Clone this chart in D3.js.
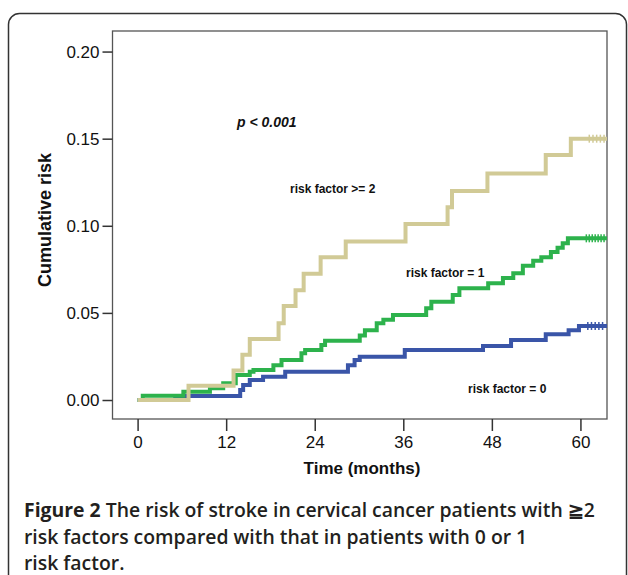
<!DOCTYPE html>
<html>
<head>
<meta charset="utf-8">
<script src="https://cdn.jsdelivr.net/npm/d3@7"></script>
<style>
  body { margin: 0; background: #fff; }
  svg { display: block; }
</style>
</head>
<body>
<svg id="chart" width="628" height="575"></svg>
<script>
// cumulative risk curves (time in months)
const timesRisk2 = [0, 6.9, 13.0, 14.2, 15.2, 19.1, 19.8, 21.4, 22.5, 24.8, 28.2, 36.3, 42.0, 42.6, 47.4, 55.3, 58.7];
const riskRisk2 = [0, 0.0082, 0.017, 0.026, 0.035, 0.044, 0.054, 0.063, 0.0725, 0.082, 0.091, 0.101, 0.1106, 0.120, 0.130, 0.1406, 0.150];

const timesRisk1 = [0, 0.7, 6.2, 9.8, 11.6, 13.3, 15.2, 15.7, 18.4, 19.5, 22.2, 22.7, 24.9, 25.4, 30.1, 30.8, 32.4, 33.3, 34.6, 39.1, 39.8, 42.7, 43.6, 47.5, 49.5, 50.9, 52.2, 53.6, 54.7, 56.0, 56.9, 57.6, 58.3];
const riskRisk1 = [0, 0.0025, 0.0048, 0.0067, 0.0096, 0.0144, 0.0162, 0.0172, 0.020, 0.023, 0.0268, 0.0287, 0.0316, 0.034, 0.037, 0.040, 0.044, 0.046, 0.0488, 0.0526, 0.0564, 0.0603, 0.0641, 0.067, 0.070, 0.0727, 0.077, 0.080, 0.082, 0.085, 0.0874, 0.090, 0.0928];

const timesRisk0 = [0, 5.1, 13.9, 14.3, 15.2, 17.0, 20.0, 28.5, 29.4, 30.1, 36.2, 46.8, 50.6, 55.3, 58.4, 59.8];
const riskRisk0 = [0, 0.0023, 0.0057, 0.0086, 0.0115, 0.0134, 0.0162, 0.020, 0.023, 0.0249, 0.0287, 0.031, 0.0344, 0.0378, 0.040, 0.0425];

// censored observations at the end of follow-up
const censorRisk2 = [61.2, 61.7, 62.2, 62.7, 63.2];
const censorRisk1 = [60.8, 61.2, 61.6, 62.0, 62.4, 62.8, 63.2];
const censorRisk0 = [61.0, 61.5, 62.0, 62.5, 63.0];

const endTime = 63.6;
const xTicks = [0, 12, 24, 36, 48, 60];
const yTicks = [0, 0.05, 0.10, 0.15, 0.20];

const seriesNames = ['risk factor = 0', 'risk factor = 1', 'risk factor >= 2'];
const seriesColors = ['#3a55a8', '#2db24c', '#d1ca96'];

const captionLines = [
  ['Figure 2', ' The risk of stroke in cervical cancer patients with \u22672'],
  ['', 'risk factors compared with that in patients with 0 or 1'],
  ['', 'risk factor.']
];

const svg = d3.select('#chart');

// outer rounded frame
svg.append('rect')
  .attr('x', 8.5).attr('y', 13.5)
  .attr('width', 618).attr('height', 620)
  .attr('rx', 11)
  .attr('fill', 'none')
  .attr('stroke', '#333')
  .attr('stroke-width', 1.5);

const plot = { left: 112.5, top: 31, right: 607, bottom: 419 };

const x = d3.scaleLinear().domain([-3.4, 63.6]).range([plot.left, plot.right]);
const y = d3.scaleLinear().domain([-0.0109, 0.2118]).range([plot.bottom, plot.top]);

svg.append('rect')
  .attr('x', plot.left).attr('y', plot.top)
  .attr('width', plot.right - plot.left).attr('height', plot.bottom - plot.top)
  .attr('fill', 'none')
  .attr('stroke', '#555')
  .attr('stroke-width', 1.3);

const tickFont = '"Liberation Sans", Arial, sans-serif';

const xAxis = svg.append('g')
  .attr('transform', `translate(0,${plot.bottom})`)
  .call(d3.axisBottom(x).tickValues(xTicks).tickSize(12).tickPadding(5).tickFormat(d3.format('d')));
xAxis.select('.domain').remove();
xAxis.selectAll('line').attr('stroke', '#333').attr('stroke-width', 1.5);
xAxis.selectAll('text').attr('font-family', tickFont).attr('font-size', 17).attr('fill', '#111');

const yAxis = svg.append('g')
  .attr('transform', `translate(${plot.left},0)`)
  .call(d3.axisLeft(y).tickValues(yTicks).tickSize(10).tickPadding(3).tickFormat(d3.format('.2f')));
yAxis.select('.domain').remove();
yAxis.selectAll('line').attr('stroke', '#333').attr('stroke-width', 1.5);
yAxis.selectAll('text').attr('font-family', tickFont).attr('font-size', 17).attr('fill', '#111');

svg.append('text')
  .attr('x', 362).attr('y', 474)
  .attr('text-anchor', 'middle')
  .attr('font-family', tickFont).attr('font-weight', 'bold').attr('font-size', 17)
  .attr('fill', '#111')
  .text('Time (months)');

svg.append('text')
  .attr('transform', 'translate(51,220) rotate(-90)')
  .attr('text-anchor', 'middle')
  .attr('font-family', tickFont).attr('font-weight', 'bold').attr('font-size', 18)
  .attr('fill', '#111')
  .text('Cumulative risk');

// step curves
const line = d3.line()
  .x(d => x(d[0]))
  .y(d => y(d[1]))
  .curve(d3.curveStepAfter);

const curves = [
  { times: timesRisk0, risk: riskRisk0, censor: censorRisk0 },
  { times: timesRisk1, risk: riskRisk1, censor: censorRisk1 },
  { times: timesRisk2, risk: riskRisk2, censor: censorRisk2 }
];

curves.forEach((c, i) => {
  const pts = c.times.map((t, k) => [t, c.risk[k]]);
  pts.push([endTime, c.risk[c.risk.length - 1]]);
  svg.append('path')
    .datum(pts)
    .attr('fill', 'none')
    .attr('stroke', seriesColors[i])
    .attr('stroke-width', 4)
    .attr('d', line);

  const last = c.risk[c.risk.length - 1];
  svg.selectAll(null)
    .data(c.censor)
    .enter().append('line')
    .attr('x1', d => x(d)).attr('x2', d => x(d))
    .attr('y1', y(last) - 4).attr('y2', y(last) + 4)
    .attr('stroke', seriesColors[i])
    .attr('stroke-width', 1.5);
});

// annotations
const labelFont = '"Liberation Sans", Arial, sans-serif';
svg.append('text')
  .attr('x', 237).attr('y', 127)
  .attr('font-family', labelFont).attr('font-weight', 'bold').attr('font-style', 'italic')
  .attr('font-size', 14).attr('fill', '#111')
  .text('p < 0.001');

const seriesLabelPos = [[468, 393], [406, 277], [290, 193]];
seriesNames.forEach((n, i) => {
  svg.append('text')
    .attr('x', seriesLabelPos[i][0]).attr('y', seriesLabelPos[i][1])
    .attr('font-family', labelFont).attr('font-weight', 'bold')
    .attr('font-size', 12).attr('fill', '#111')
    .text(n);
});

// caption
const cap = svg.append('g')
  .attr('font-family', '"Open Sans", "Noto Sans", sans-serif')
  .attr('font-size', 19.4)
  .attr('fill', '#231f20');
captionLines.forEach((l, i) => {
  const t = cap.append('text').attr('x', 24).attr('y', 517 + i * 26.5);
  if (l[0]) t.append('tspan').attr('font-weight', 700).text(l[0]);
  t.append('tspan').attr('font-weight', 600).text(l[1]);
});
</script>
</body>
</html>
